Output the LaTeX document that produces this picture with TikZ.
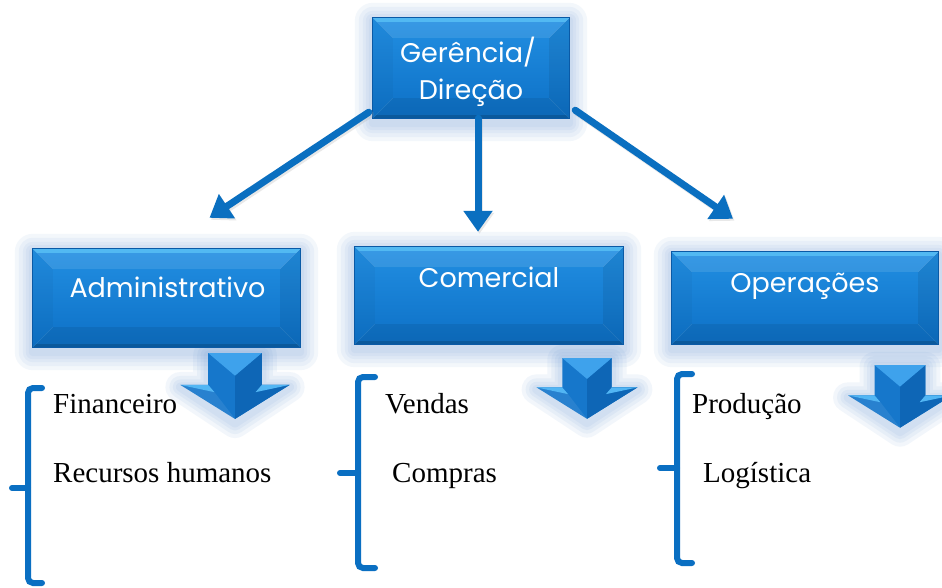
\documentclass[tikz,border=0pt]{standalone}
\usepackage{fontspec}
\setmainfont{Liberation Serif}
\newfontfamily\boxfont{Poppins}
\usetikzlibrary{arrows.meta,calc}
\definecolor{connc}{HTML}{0A6FC0}
\definecolor{brc}{HTML}{0A6FC2}
\definecolor{faceT}{HTML}{228FE2}
\definecolor{faceB}{HTML}{0D70C6}
\definecolor{edgec}{HTML}{0A5AA6}
\definecolor{lightc}{HTML}{5CC4F8}
\definecolor{glowc}{HTML}{5F92D2}
\definecolor{arrmid}{HTML}{1677CB}
\definecolor{arrlt}{HTML}{3EA2EC}
\definecolor{arrdk}{HTML}{0E66B6}
\definecolor{wing}{HTML}{52B6F4}
\tikzset{
  boxnode/.style={rectangle, inner sep=0pt, draw=none},
  btext/.style={text=white, font=\boxfont\fontsize{27}{30}\selectfont, inner sep=0pt},
  stext/.style={text=black, font=\fontsize{29}{32}\selectfont, inner sep=0pt, anchor=base west},
  conn/.style={connc, line width=7pt, line cap=round, -{Triangle[length=21pt,width=28pt]}},
  connshadow/.style={black!35, opacity=0.25, line width=7pt, line cap=round, -{Triangle[length=21pt,width=28pt]}},
  bracket/.style={brc, line width=6pt, line cap=round, rounded corners=5pt},
}
\newcommand\glowbox[1]{%
  \foreach \k in {18,14,10,7,4}{%
    \fill[glowc, opacity=0.07, rounded corners=\k pt] ($(#1.north west)+(-\k,-\k+3)$) rectangle ($(#1.south east)+(\k,\k+5)$);}}
\newcommand\bevelbox[2]{%
  \shade[top color=faceT, bottom color=faceB] (#1.north west) rectangle (#1.south east);
  \path (#1.north west) ++(#2,#2) coordinate (#1i1);
  \path (#1.north east) ++(-#2,#2) coordinate (#1i2);
  \path (#1.south east) ++(-#2,-#2) coordinate (#1i3);
  \path (#1.south west) ++(#2,-#2) coordinate (#1i4);
  \fill[white, opacity=0.10] (#1.north west) -- (#1.north east) -- (#1i2) -- (#1i1) -- cycle;
  \fill[black, opacity=0.03] (#1.north west) -- (#1i1) -- (#1i4) -- (#1.south west) -- cycle;
  \fill[black, opacity=0.07] (#1.north east) -- (#1i2) -- (#1i3) -- (#1.south east) -- cycle;
  \fill[black, opacity=0.07] (#1.south west) -- (#1i4) -- (#1i3) -- (#1.south east) -- cycle;
  \fill[lightc, opacity=0.75] (#1.north west) -- (#1.north east) -- ($(#1.north east)+(-4,4)$) -- ($(#1.north west)+(4,4)$) -- cycle;
  \fill[black, opacity=0.15] (#1.south west) -- (#1.south east) -- ($(#1.south east)+(-3,-3)$) -- ($(#1.south west)+(3,-3)$) -- cycle;
  \draw[white, opacity=0.10, line width=0.6pt] (#1.north west) -- (#1i1) (#1.north east) -- (#1i2) (#1.south east) -- (#1i3) (#1.south west) -- (#1i4);
  \draw[edgec, line width=0.7pt] (#1.north west) rectangle (#1.south east);}
\newcommand\blockarrow[3]{% cx, top y, scale
  \begin{scope}[shift={(#1,#2)}, scale=#3]
    \foreach \w in {30,22,15,9}{%
      \draw[glowc, opacity=0.08, line width=\w pt, line join=round]
        (-26,2) -- (26,2) -- (26,33) -- (53,33) -- (0,68) -- (-53,33) -- (-26,33) -- cycle;}
    \fill[arrmid] (-26,0) -- (26,0) -- (26,31) -- (53,31) -- (0,64) -- (-53,31) -- (-26,31) -- cycle;
    \fill[arrdk] (26,0) -- (0,22) -- (0,64) -- (53,31) -- (26,31) -- cycle;
    \fill[arrlt] (-26,0) -- (26,0) -- (0,22) -- cycle;
    \fill[wing] (-53,31) -- (-26,31) -- (-20,38) -- cycle;
    \fill[wing] (53,31) -- (26,31) -- (20,38) -- cycle;
    \fill[white, opacity=0.08] (-53,31) -- (-20,38) -- (0,64) -- cycle;
  \end{scope}}
\begin{document}
\begin{tikzpicture}[x=1pt, y={(0pt,-1pt)}]
\useasboundingbox (0,0) rectangle (942,588);
\fill[white] (0,0) rectangle (942,588);

% box nodes
\node[boxnode, minimum width=196pt, minimum height=100pt] (top) at (471,68) {};
\node[boxnode, minimum width=267pt, minimum height=98pt] (adm) at (166.5,298) {};
\node[boxnode, minimum width=268pt, minimum height=97pt] (com) at (489,295.5) {};
\node[boxnode, minimum width=266pt, minimum height=92pt] (ops) at (805,298) {};

\glowbox{top}
\glowbox{adm}
\glowbox{com}
\glowbox{ops}

% block arrows
\blockarrow{235}{353}{1.03}
\blockarrow{587}{358}{0.95}
\blockarrow{900}{365}{0.98}

\bevelbox{top}{20}
\bevelbox{adm}{20}
\bevelbox{com}{20}
\bevelbox{ops}{20}

% box texts
\node[btext, anchor=base] (tg) at (468,63) {Gerência/};
\node[btext, anchor=base] (td) at (471,100) {Direção};
\node[btext, anchor=base] (tadm) at (167.5,297) {Administrativo};
\node[btext, anchor=base] (tcom) at (489,287) {Comercial};
\node[btext, anchor=base] (tops) at (805,292) {Operações};

% connectors
\coordinate (s1) at ($(top.south west)+(-4,-6)$);
\coordinate (e1) at ($(adm.north)+(43,-31)$);
\coordinate (s2) at ($(top.south)+(7,0)$);
\coordinate (e2) at ($(com.north)+(-11,-15)$);
\coordinate (s3) at ($(top.south east)+(6,-8)$);
\coordinate (e3) at ($(ops.north)+(-72,-33)$);
\draw[connshadow, transform canvas={shift={(1.5pt,-2pt)}}] (s1) -- (e1);
\draw[connshadow, transform canvas={shift={(1.5pt,-2pt)}}] (s2) -- (e2);
\draw[connshadow, transform canvas={shift={(1.5pt,-2pt)}}] (s3) -- (e3);
\draw[conn] (s1) -- (e1);
\draw[conn] (s2) -- (e2);
\draw[conn] (s3) -- (e3);

% brackets
\draw[bracket] (42,388) -- (28,388) -- (28,583) -- (42,583);
\draw[brc, line width=6pt, line cap=round] (28,488) -- (12,488);
\draw[bracket] (375,377) -- (358,377) -- (358,568) -- (375,568);
\draw[brc, line width=6pt, line cap=round] (358,473) -- (340,473);
\draw[bracket] (692,374) -- (677,374) -- (677,563) -- (692,563);
\draw[brc, line width=6pt, line cap=round] (677,468) -- (660,468);

% list texts
\node[stext] (fin) at (53,413) {Financeiro};
\node[stext] (rh) at (53,482) {Recursos humanos};
\node[stext] (ven) at (385,413) {Vendas};
\node[stext] (cmp) at (392,482) {Compras};
\node[stext] (prd) at (692,413) {Produção};
\node[stext] (log) at (703,482) {Logística};
\end{tikzpicture}
\end{document}
